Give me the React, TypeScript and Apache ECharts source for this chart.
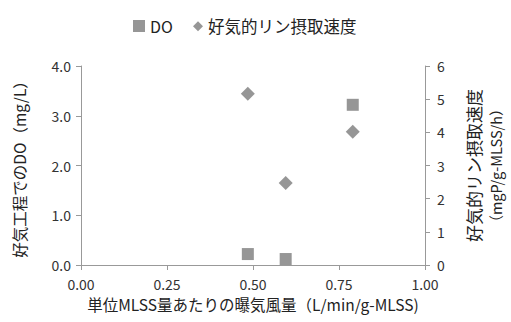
import React, { useEffect, useRef } from "react";
import * as echarts from "echarts";

const xValues = [0.485, 0.595, 0.79];
const doValues = [0.22, 0.12, 3.22];
const uptakeValues = [5.16, 2.47, 4.02];
const seriesNames = ["DO", "好気的リン摂取速度"];

const FONT = "'Noto Sans CJK JP', 'Noto Sans', sans-serif";
const GRAY = "#7c7c7c";

export default function App() {
  const ref = useRef<HTMLDivElement>(null);
  useEffect(() => {
    if (!ref.current) return;
    const chart = echarts.init(ref.current, null, { renderer: "svg" });
    chart.setOption({
      animation: false,
      textStyle: { fontFamily: FONT },
      legend: [
        {
          data: [{ name: seriesNames[0], icon: "rect" }],
          left: 128,
          top: 13,
          itemWidth: 12,
          itemHeight: 12,
          textStyle: { fontSize: 16, color: "#222", fontFamily: FONT },
        },
        {
          data: [{ name: seriesNames[1], icon: "diamond" }],
          left: 188,
          top: 13,
          itemWidth: 10,
          itemHeight: 10,
          textStyle: { fontSize: 16.5, color: "#222", fontFamily: FONT },
        },
      ],
      grid: { left: 81, right: 86, top: 66, bottom: 57 },
      xAxis: {
        type: "value",
        min: 0,
        max: 1,
        interval: 0.25,
        name: "単位MLSS量あたりの曝気風量（L/min/g-MLSS)",
        nameLocation: "middle",
        nameGap: 31,
        nameTextStyle: { fontSize: 15.5, color: "#222", fontFamily: FONT },
        axisLine: { lineStyle: { color: "#999" } },
        axisTick: { show: true, inside: false, length: 5, lineStyle: { color: "#999" } },
        axisLabel: {
          fontSize: 14,
          color: "#333",
          margin: 12,
          formatter: (v: number) => v.toFixed(2),
        },
        splitLine: { show: false },
      },
      yAxis: [
        {
          type: "value",
          position: "left",
          min: 0,
          max: 4,
          interval: 1,
          name: "好気工程でのDO（mg/L）",
          nameLocation: "middle",
          nameGap: 54,
          nameTextStyle: { fontSize: 15.5, color: "#222", fontFamily: FONT },
          axisLine: { show: true, lineStyle: { color: "#999" } },
          axisTick: { show: true, length: 5, lineStyle: { color: "#999" } },
          axisLabel: {
            fontSize: 14,
            color: "#333",
            margin: 10,
            formatter: (v: number) => v.toFixed(1),
          },
          splitLine: { show: false },
        },
        {
          type: "value",
          position: "right",
          min: 0,
          max: 6,
          interval: 1,
          name: "{a|好気的リン摂取速度}\n{b|（mgP/g-MLSS/h）}",
          nameLocation: "middle",
          nameGap: 37,
          nameRotate: 90,
          nameTextStyle: {
            color: "#222",
            fontFamily: FONT,
            rich: {
              a: { fontSize: 17, lineHeight: 22, color: "#222", fontFamily: FONT },
              b: { fontSize: 14.5, lineHeight: 22, color: "#222", fontFamily: FONT },
            },
          },
          axisLine: { show: true, lineStyle: { color: "#999" } },
          axisTick: { show: true, length: 5, lineStyle: { color: "#999" } },
          axisLabel: { fontSize: 14, color: "#333", margin: 12 },
          splitLine: { show: false },
        },
      ],
      series: [
        {
          name: seriesNames[0],
          type: "scatter",
          yAxisIndex: 0,
          symbol: "rect",
          symbolSize: 12,
          itemStyle: { color: GRAY },
          data: xValues.map((x, i) => [x, doValues[i]]),
        },
        {
          name: seriesNames[1],
          type: "scatter",
          yAxisIndex: 1,
          symbol: "diamond",
          symbolSize: 14,
          itemStyle: { color: GRAY },
          data: xValues.map((x, i) => [x, uptakeValues[i]]),
        },
      ],
    });
    return () => chart.dispose();
  }, []);
  return (
    <div
      ref={ref}
      style={{ position: "absolute", left: 0, top: 0, width: 511, height: 322 }}
    />
  );
}
